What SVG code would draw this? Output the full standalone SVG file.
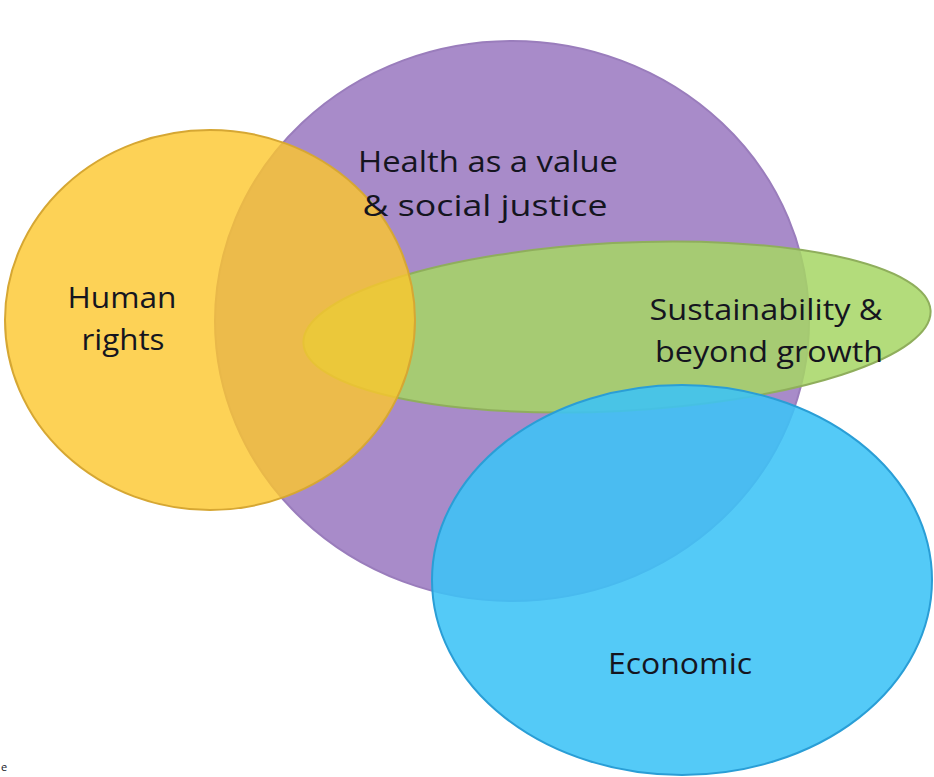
<svg xmlns="http://www.w3.org/2000/svg" width="934" height="777" viewBox="0 0 934 777">
<style>
text{font-family:"Open Sans","Liberation Sans",sans-serif;font-size:30px;fill:#15151f;text-anchor:middle}
.purple{fill:#a88bc9;stroke:#9a7dbc;stroke-width:2}
.green{fill:#a6d664;fill-opacity:0.85;stroke:#8fae5c;stroke-width:2}
.yellow{fill:#fcc72c;fill-opacity:0.8;stroke:#d6a733;stroke-width:2}
.blue{fill:#3cc3f6;fill-opacity:0.88;stroke:#2a9ed6;stroke-width:2}
</style>
<rect width="934" height="777" fill="#ffffff"/>
<g id="health">
<ellipse class="purple" cx="512" cy="321" rx="297" ry="280"/>
</g>
<g id="sustainability">
<ellipse class="green" cx="617" cy="327" rx="314" ry="84" transform="rotate(-3 617 327)"/>
</g>
<g id="human-rights">
<ellipse class="yellow" cx="210" cy="320" rx="205" ry="190"/>
</g>
<g id="economic">
<ellipse class="blue" cx="682" cy="580" rx="250" ry="195"/>
</g>
<g id="connectors"></g>
<g id="labels">
<text x="488" y="172" textLength="260" lengthAdjust="spacingAndGlyphs">Health as a value</text>
<text x="485" y="216" textLength="245" lengthAdjust="spacingAndGlyphs">&amp; social justice</text>
<text x="122" y="308" textLength="109" lengthAdjust="spacingAndGlyphs">Human</text>
<text x="123" y="350" textLength="83" lengthAdjust="spacingAndGlyphs">rights</text>
<text x="766" y="320" textLength="233" lengthAdjust="spacingAndGlyphs">Sustainability &amp;</text>
<text x="769" y="362" textLength="228" lengthAdjust="spacingAndGlyphs">beyond growth</text>
<text x="680" y="674" textLength="144" lengthAdjust="spacingAndGlyphs">Economic</text>
<text x="1" y="771" style="font-size:11px;text-anchor:start">e</text>
</g>
</svg>
